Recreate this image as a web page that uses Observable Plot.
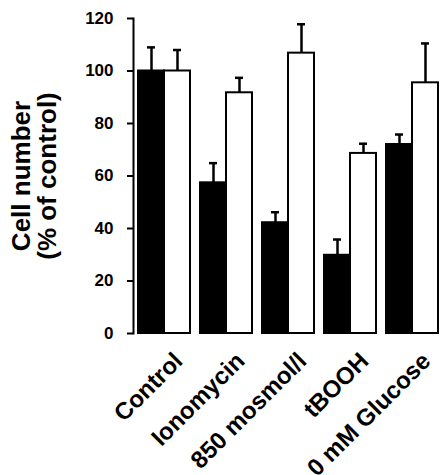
<!DOCTYPE html>
<html>
<head>
<meta charset="utf-8">
<script src="https://cdn.jsdelivr.net/npm/d3@7"></script>
<script src="https://cdn.jsdelivr.net/npm/@observablehq/plot@0.6"></script>
<style>
  html, body { margin: 0; padding: 0; background: #fff; }
  #chart svg { font-family: "Liberation Sans", Arial, sans-serif; font-weight: bold; }
  #chart svg g[aria-label="y-axis label"] { font-size: 26px; }
</style>
</head>
<body>
<div id="chart"></div>
<script>
const categories = ["Control", "Ionomycin", "850 mosmol/l", "tBOOH", "0 mM Glucose"];
const series = ["black", "white"];
const blackValues = [100, 57.4, 42.2, 29.8, 72];
const blackErrors = [9, 7.5, 4, 6, 3.8];
const whiteValues = [100, 91.7, 106.8, 68.6, 95.5];
const whiteErrors = [8, 5.7, 11, 3.7, 15];
const yTicks = [0, 20, 40, 60, 80, 100, 120];
const yLabel = "Cell number\n(% of control)";

const rows = categories.flatMap((c, i) => [
  {cat: c, s: "black", v: blackValues[i], e: blackErrors[i]},
  {cat: c, s: "white", v: whiteValues[i], e: whiteErrors[i]}
]);

const chart = Plot.plot({
  width: 441,
  height: 475,
  marginLeft: 132,
  marginRight: 1,
  marginTop: 18,
  marginBottom: 142,
  fx: {domain: categories, paddingInner: 0.076, paddingOuter: 0, axis: null},
  x: {domain: series, padding: 0, insetLeft: 5, axis: null},
  y: {domain: [0, 120]},
  color: {domain: series, range: ["black", "white"]},
  marks: [
    Plot.ruleX(rows, {fx: "cat", x: "s", y1: "v", y2: d => d.v + d.e, stroke: "black", strokeWidth: 2.5}),
    Plot.tickY(rows, {fx: "cat", x: "s", y: d => d.v + d.e, insetLeft: 9, insetRight: 9, stroke: "black", strokeWidth: 2.5}),
    Plot.barY(rows, {fx: "cat", x: "s", y: "v", fill: "s", stroke: "black", strokeWidth: 2}),
    Plot.frame({anchor: "left", facetAnchor: "left", stroke: "black", strokeWidth: 2}),
    Plot.axisY({
      ticks: yTicks, tickSize: 6, tickPadding: 14, strokeWidth: 2,
      fontSize: 17, fontWeight: "bold",
      label: yLabel, labelAnchor: "center", labelOffset: 122, labelArrow: "none"
    }),
    Plot.text(categories, {
      fx: d => d, text: d => d, frameAnchor: "bottom", rotate: -45,
      textAnchor: "end", lineAnchor: "bottom", dx: 22, dy: 29,
      fontSize: 24, fontWeight: "bold"
    })
  ]
});
document.getElementById("chart").append(chart);
</script>
</body>
</html>
